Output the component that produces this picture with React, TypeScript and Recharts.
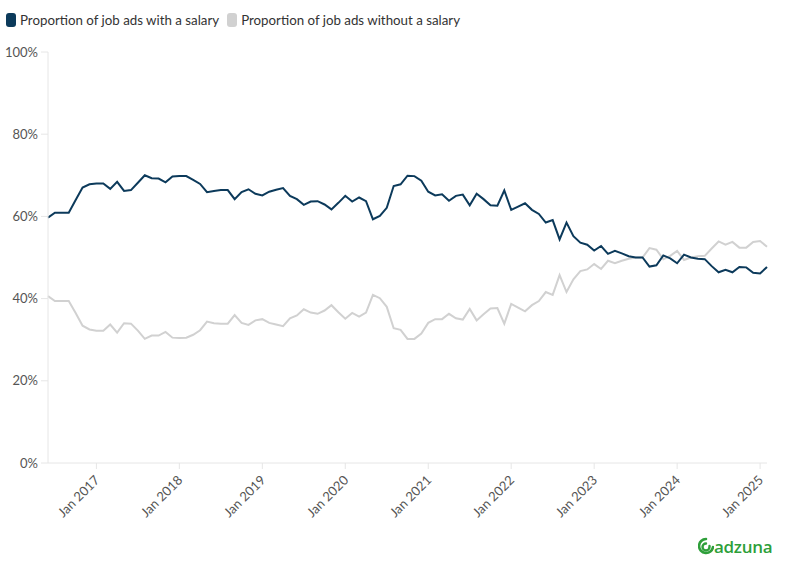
import React from "react";
import { LineChart, Line, XAxis, YAxis } from "recharts";

const START_YEAR = 2016;
const START_MONTH = 5; // June (0-based)
const MONTH_NAMES = ["Jan", "Feb", "Mar", "Apr", "May", "Jun", "Jul", "Aug", "Sep", "Oct", "Nov", "Dec"];

const withSalary: number[] = [
  59.7, 60.9, 60.9, 60.9, 64.0, 67.0, 67.8, 68.0, 68.0, 66.7,
  68.4, 66.2, 66.4, 68.2, 70.0, 69.3, 69.2, 68.3, 69.7, 69.8,
  69.8, 68.9, 67.9, 65.9, 66.2, 66.4, 66.4, 64.2, 65.9, 66.6,
  65.5, 65.1, 66.0, 66.5, 66.9, 65.0, 64.2, 62.8, 63.6, 63.7,
  62.9, 61.7, 63.3, 65.0, 63.6, 64.6, 63.7, 59.3, 60.1, 62.1,
  67.4, 67.8, 69.9, 69.8, 68.7, 66.0, 65.1, 65.4, 63.8, 65.0,
  65.3, 62.7, 65.5, 64.2, 62.7, 62.6, 66.3, 61.6, 62.4, 63.2,
  61.6, 60.6, 58.5, 59.1, 54.4, 58.5, 55.2, 53.6, 53.1, 51.7,
  52.8, 50.9, 51.6, 51.0, 50.3, 50.0, 50.0, 47.8, 48.1, 50.5,
  49.8, 48.6, 50.7, 50.0, 49.7, 49.6, 47.9, 46.4, 47.0, 46.4,
  47.7, 47.6, 46.3, 46.1, 47.7,
];

const withoutSalary: number[] = [
  40.6, 39.4, 39.4, 39.4, 36.5, 33.4, 32.5, 32.2, 32.2, 33.7,
  31.7, 34.0, 33.9, 32.2, 30.2, 31.0, 31.0, 31.9, 30.5, 30.4,
  30.5, 31.2, 32.3, 34.4, 34.0, 33.9, 33.9, 36.0, 34.1, 33.6,
  34.7, 35.0, 34.1, 33.7, 33.3, 35.2, 35.9, 37.4, 36.6, 36.3,
  37.1, 38.4, 36.7, 35.1, 36.5, 35.6, 36.6, 40.9, 40.1, 38.0,
  32.8, 32.4, 30.2, 30.2, 31.5, 34.1, 35.0, 35.0, 36.3, 35.2,
  34.9, 37.5, 34.7, 36.2, 37.6, 37.7, 33.9, 38.7, 37.8, 36.9,
  38.4, 39.4, 41.6, 40.9, 45.7, 41.6, 44.7, 46.7, 47.1, 48.4,
  47.2, 49.2, 48.6, 49.2, 49.7, 50.0, 50.0, 52.3, 51.9, 49.6,
  50.4, 51.6, 49.4, 50.0, 50.3, 50.4, 52.2, 53.9, 53.1, 53.8,
  52.4, 52.4, 53.8, 54.0, 52.6,
];

const months: string[] = withSalary.map((_, i) => {
  const m = START_MONTH + i;
  return `${MONTH_NAMES[m % 12]} ${START_YEAR + Math.floor(m / 12)}`;
});

const xTicks: string[] = [
  "Jan 2017", "Jan 2018", "Jan 2019", "Jan 2020", "Jan 2021",
  "Jan 2022", "Jan 2023", "Jan 2024", "Jan 2025",
];

const yTicks: number[] = [0, 20, 40, 60, 80, 100];

const SERIES_WITH = "Proportion of job ads with a salary";
const SERIES_WITHOUT = "Proportion of job ads without a salary";

const NAVY = "#0c3a5b";
const GREY = "#d1d1d1";
const AXIS = "#e6e6e6";
const FONT = "Lato, 'Open Sans', sans-serif";

const data = months.map((month, i) => ({
  month,
  withSalary: withSalary[i],
  withoutSalary: withoutSalary[i],
}));

const XTick = (props: any) => {
  const { x, y, payload } = props;
  const px = x + 4;
  const py = y + 10;
  return (
    <text
      x={px}
      y={py}
      textAnchor="end"
      transform={`rotate(-45, ${px}, ${py})`}
      fill="#555"
      fontSize={13}
      fontFamily={FONT}
    >
      {payload.value}
    </text>
  );
};

const LegendItem = ({ color, label }: { color: string; label: string }) => (
  <div style={{ display: "flex", alignItems: "center", marginRight: 8 }}>
    <div style={{ width: 10, height: 14, borderRadius: 3, background: color, marginRight: 4 }} />
    <span style={{ fontSize: 13.3, color: "#333", fontFamily: FONT }}>{label}</span>
  </div>
);

export default function App() {
  return (
    <div style={{ position: "absolute", left: 0, top: 0, width: 785, height: 571, background: "#fff" }}>
      <div style={{ position: "absolute", left: 6, top: 12, display: "flex", alignItems: "center" }}>
        <LegendItem color={NAVY} label={SERIES_WITH} />
        <LegendItem color={GREY} label={SERIES_WITHOUT} />
      </div>
      <LineChart
        width={785}
        height={571}
        data={data}
        margin={{ top: 52, right: 18, bottom: 48, left: 8 }}
      >
        <XAxis
          dataKey="month"
          ticks={xTicks}
          interval={0}
          height={60}
          stroke={AXIS}
          tickSize={6}
          tick={<XTick />}
          padding={{ left: 0, right: 0 }}
        />
        <YAxis
          domain={[0, 100]}
          ticks={yTicks}
          width={40}
          stroke={AXIS}
          tickSize={7}
          tickMargin={3}
          tickFormatter={(v: number) => `${v}%`}
          tick={{ fill: "#555", fontSize: 13, fontFamily: FONT }}
        />
        <Line
          type="linear"
          dataKey="withoutSalary"
          name={SERIES_WITHOUT}
          stroke={GREY}
          strokeWidth={2}
          dot={false}
          isAnimationActive={false}
        />
        <Line
          type="linear"
          dataKey="withSalary"
          name={SERIES_WITH}
          stroke={NAVY}
          strokeWidth={2}
          dot={false}
          isAnimationActive={false}
        />
      </LineChart>
      <div style={{ position: "absolute", left: 698, top: 537, display: "flex", alignItems: "center" }}>
        <svg width={16} height={20} viewBox="0 0 16 20">
          <path
            d="M8 2 A7 7 0 1 0 15 10"
            fill="none"
            stroke="#2e9f3a"
            strokeWidth={2.6}
            strokeLinecap="round"
          />
          <path
            d="M8 6.5 A3.5 3.5 0 1 0 11.5 10 L11.5 9"
            fill="none"
            stroke="#2e9f3a"
            strokeWidth={2.4}
            strokeLinecap="round"
          />
        </svg>
        <span
          style={{
            fontFamily: "'Open Sans', Lato, sans-serif",
            fontWeight: 600,
            fontSize: 17,
            color: "#2e9f3a",
            letterSpacing: -0.3,
            lineHeight: "20px",
          }}
        >
          adzuna
        </span>
      </div>
    </div>
  );
}
